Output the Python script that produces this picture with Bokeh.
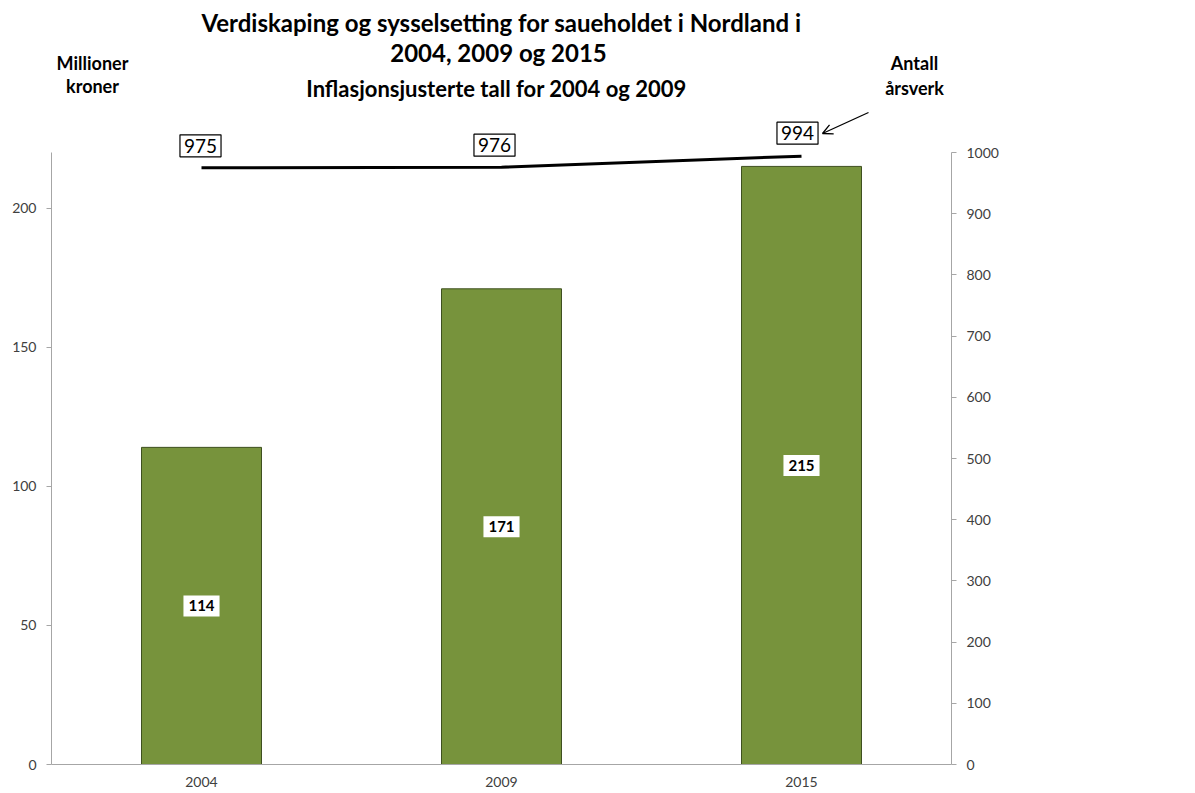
from bokeh.plotting import figure
from bokeh.models import (Range1d, LinearAxis, FixedTicker, Label, Arrow, OpenHead,
                          Legend, LegendItem)
from bokeh.embed import file_html
from bokeh.resources import INLINE

years = ["2004", "2009", "2015"]
verdiskaping = [114, 171, 215]
sysselsetting = [975, 976, 994]
left_ticks = [0, 50, 100, 150, 200]
right_ticks = [0, 100, 200, 300, 400, 500, 600, 700, 800, 900, 1000]
left_max = 220
right_max = 1000

title_lines = ["Verdiskaping og sysselsetting for saueholdet i Nordland i",
               "2004, 2009 og 2015"]
subtitle = "Inflasjonsjusterte tall for 2004 og 2009"
left_unit = ["Millioner", "kroner"]
right_unit = ["Antall", "årsverk"]

FONT = "Lato"
BAR = "#77933C"
AXIS = "#A6A6A6"
TICKTXT = "#404040"

# layout (pixels)
H = 792
FL, FR, FT, FB = 51, 951, 38, 764      # plot frame edges
AXIS_TOP = 152                          # where the value axes end
stretch = (FB - FT) / (FB - AXIS_TOP)   # frame extends above the axes for the texts

xs = [i + 0.5 for i in range(len(years))]

p = figure(frame_width=FR - FL, frame_height=FB - FT, x_range=Range1d(0, len(years)),
           y_range=Range1d(0, left_max * stretch), output_backend="svg",
           toolbar_location=None, min_border_left=FL, min_border_right=50,
           min_border_top=FT, min_border_bottom=H - FB)
p.extra_y_ranges = {"right": Range1d(0, right_max * stretch)}
p.outline_line_color = None
p.grid.visible = False
p.background_fill_color = "white"
p.border_fill_color = "white"

# main title line (in the top border)
p.title.text = title_lines[0]
p.title.align = "center"
p.title.offset = -17
p.title.standoff = 4
p.title.text_font = FONT
p.title.text_font_style = "bold"
p.title.text_font_size = "24px"
p.title.text_color = "black"

bars = p.vbar(x=xs, top=verdiskaping, width=0.4, fill_color=BAR,
              line_color="#3F5020", line_width=1)
line = p.line(x=xs, y=sysselsetting, y_range_name="right", line_width=3,
              line_color="black")

# axes
xa = p.xaxis[0]
xa.ticker = FixedTicker(ticks=xs)
xa.major_label_overrides = {x: y for x, y in zip(xs, years)}
xa.axis_line_color = AXIS
xa.major_tick_line_color = None
xa.minor_tick_line_color = None
xa.major_label_text_font = FONT
xa.major_label_text_font_size = "14px"
xa.major_label_text_color = TICKTXT
xa.major_label_standoff = 6

ya = p.yaxis[0]
ya.ticker = FixedTicker(ticks=left_ticks)
ya.bounds = (0, left_max)
ya.axis_line_color = AXIS
ya.major_tick_line_color = AXIS
ya.major_tick_out = 5
ya.major_tick_in = 0
ya.minor_tick_line_color = None
ya.major_label_text_font = FONT
ya.major_label_text_font_size = "14px"
ya.major_label_text_color = TICKTXT
ya.major_label_standoff = 10

ra = LinearAxis(y_range_name="right", ticker=FixedTicker(ticks=right_ticks),
                bounds=(0, right_max))
ra.axis_line_color = AXIS
ra.major_tick_line_color = AXIS
ra.major_tick_out = 5
ra.major_tick_in = 0
ra.minor_tick_line_color = None
ra.major_label_text_font = FONT
ra.major_label_text_font_size = "14px"
ra.major_label_text_color = TICKTXT
ra.major_label_standoff = 10
p.add_layout(ra, "right")

# bar value labels
for x, v in zip(xs, verdiskaping):
    p.add_layout(Label(x=x, y=v / 2, text=str(v),
                       text_align="center", text_baseline="middle",
                       text_font=FONT, text_font_style="bold", text_font_size="15px",
                       text_color="black", background_fill_color="white",
                       padding=5))

# line value labels
offsets_x = [-1, -7, -4]
offsets_y = [22, 22, 23]
for i, (x, v) in enumerate(zip(xs, sysselsetting)):
    p.add_layout(Label(x=x, y=v, y_range_name="right",
                       x_offset=offsets_x[i], y_offset=offsets_y[i], text=str(v),
                       text_align="center", text_baseline="middle",
                       text_font=FONT, text_font_size="19px", text_color="black",
                       background_fill_color="white", border_line_color="black",
                       border_line_width=1.2, padding=4))

def scr_label(x, y, text, size, bold=True):
    p.add_layout(Label(x=x - FL, y=FB - y, x_units="screen", y_units="screen", text=text,
                       text_align="center", text_baseline="middle", text_font=FONT,
                       text_font_style="bold" if bold else "normal",
                       text_font_size=size, text_color="black"))

scr_label(498, 52, title_lines[1], "24px")
scr_label(496, 88, subtitle, "22px")
for j, t in enumerate(left_unit):
    scr_label(92, 62 + 23 * j, t, "18px")
for j, t in enumerate(right_unit):
    scr_label(914, 62 + 25 * j, t, "18px")

p.add_layout(Arrow(end=OpenHead(size=10, line_width=1.3, line_color="black"),
                   x_start=868 - FL, y_start=FB - 112, x_end=822 - FL, y_end=FB - 133,
                   start_units="screen", end_units="screen",
                   line_width=1.3, line_color="black"))

legend = Legend(items=[LegendItem(label="Verdiskaping", renderers=[bars]),
                       LegendItem(label="Sysselsetting", renderers=[line])],
                location="center", orientation="vertical",
                glyph_width=31, glyph_height=15, label_standoff=4,
                label_text_font=FONT, label_text_font_size="20px",
                label_text_color="black", spacing=17, padding=0, margin=10,
                border_line_color=None, background_fill_alpha=0)
p.add_layout(legend, "right")

open("out.html", "w").write(file_html(p, INLINE))
